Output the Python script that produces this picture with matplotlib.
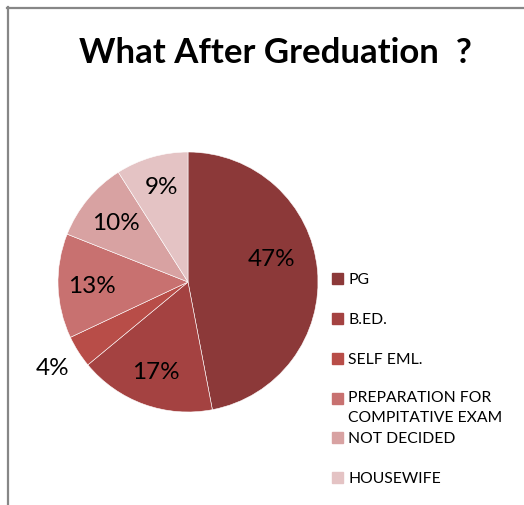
import math
import matplotlib
matplotlib.use("Agg")
import matplotlib.pyplot as plt
from matplotlib.patches import Rectangle
from matplotlib.lines import Line2D

W, H = 524, 506

# chart data
categories = ["PG", "B.ED.", "SELF EML.", "PREPARATION FOR\nCOMPITATIVE EXAM",
              "NOT DECIDED", "HOUSEWIFE"]
shares = [47, 17, 4, 13, 10, 9]
colors = ["#8C3939", "#A44241", "#B84D48", "#C87170", "#D8A2A2", "#E4C3C4"]

plt.rcParams['font.family'] = ['Lato', 'DejaVu Sans']

fig = plt.figure(figsize=(W / 100, H / 100), dpi=100)


def fx(px):
    return px / W


def fy(py):
    return 1 - py / H


# chart frame (left + top edges visible)
fig.add_artist(Line2D([fx(7.5), fx(7.5)], [fy(8), fy(506)], color="#878787", lw=1.6))
fig.add_artist(Line2D([fx(7), fx(524)], [fy(8.5), fy(8.5)], color="#878787", lw=1.6))

fig.text(fx(275), fy(53), "What After Greduation  ?", ha="center", va="center",
         fontsize=25, fontweight="bold", color="black")

# pie centred at (188, 283) px, radius 130 px
r = 130
ax = fig.add_axes([fx(188 - r), fy(283 + r), 2 * r / W, 2 * r / H])
wedges, texts, autotexts = ax.pie(shares, colors=colors, startangle=90, counterclock=False,
                                  autopct="%1.0f%%", pctdistance=0.72,
                                  wedgeprops=dict(edgecolor="white", linewidth=0.4),
                                  textprops=dict(fontsize=17.5, color="black"))
ax.set_xlim(-1, 1)
ax.set_ylim(-1, 1)
ax.set_aspect("equal")
ax.axis("off")

# Excel-style label placement: distance from centre and angle nudge
label_dist = [0.67, 0.73, 1.23, 0.74, 0.72, 0.765]
label_nudge = [10, 0, 0, 0, 0, -1]
for w, t, d, n in zip(wedges, autotexts, label_dist, label_nudge):
    mid = math.radians((w.theta1 + w.theta2) / 2 + n)
    t.set_position((d * math.cos(mid), d * math.sin(mid)))
    t.set_ha("center")
    t.set_va("center")

# legend drawn by hand to keep Excel's spacing
legend_y = [280, 320, 360, 400, 439, 479]
for name, col, y in zip(categories, colors, legend_y):
    fig.add_artist(Rectangle((fx(332), fy(y + 5)), 11 / W, 11 / H, color=col,
                             transform=fig.transFigure))
    if "\n" in name:
        fig.text(fx(348), fy(y - 9), name, ha="left", va="top", fontsize=11.3,
                 linespacing=1.55)
    else:
        fig.text(fx(348), fy(y), name, ha="left", va="center", fontsize=11.3)

fig.savefig("out.png", dpi=100)
